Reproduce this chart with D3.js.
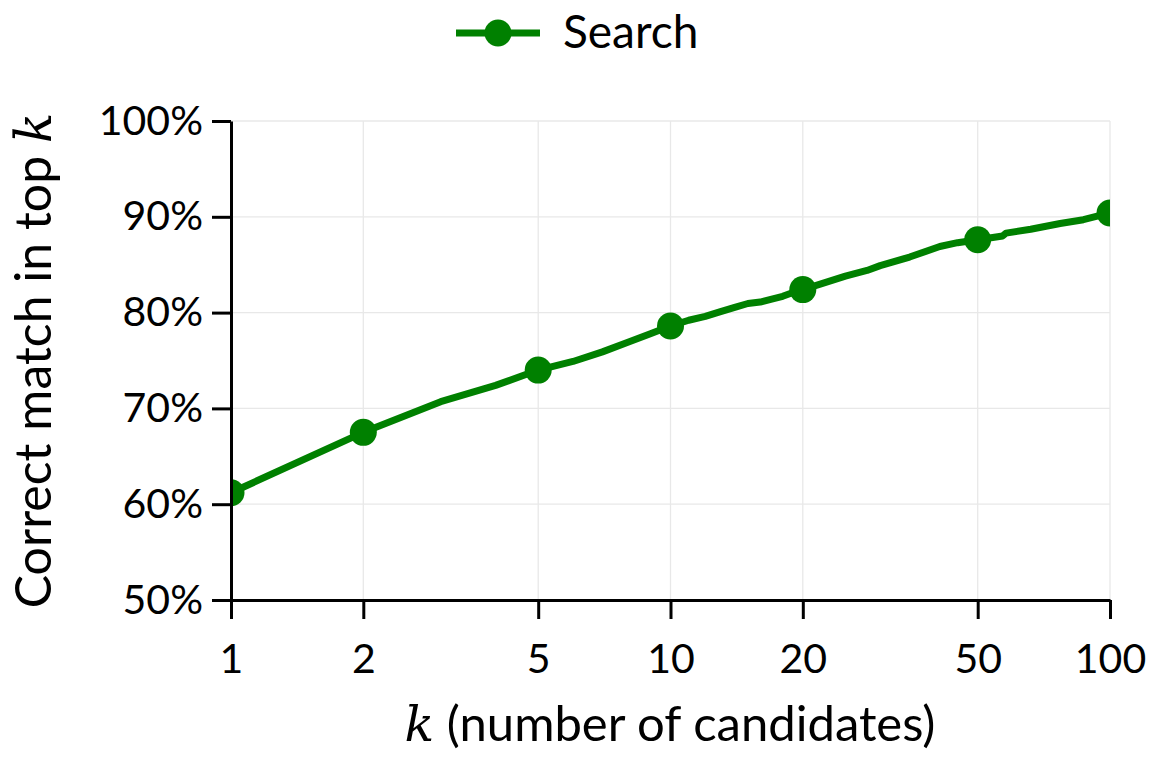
<!DOCTYPE html>
<html>
<head>
<meta charset="utf-8">
<script src="https://cdn.jsdelivr.net/npm/d3@7"></script>
<style>
  body { margin: 0; background: #fff; }
  text { font-family: Lato, "Open Sans", sans-serif; fill: #000; }
  .math { font-family: "DejaVu Serif", "Liberation Serif", serif; font-style: italic; }
</style>
</head>
<body>
<div id="chart"></div>
<script>
const kValues = [1, 2, 3, 4, 5, 6, 7, 8, 9, 10, 11, 12, 13, 14, 15, 16, 17, 18, 19, 20,
                 22, 25, 28, 30, 35, 41, 45, 50, 57, 58, 66, 77, 87, 100];
const searchValues = [0.612, 0.675, 0.707, 0.724, 0.740, 0.749, 0.759, 0.769, 0.778, 0.786,
                      0.792, 0.796, 0.801, 0.8055, 0.8095, 0.811, 0.814, 0.817, 0.821, 0.824,
                      0.830, 0.838, 0.844, 0.849, 0.858, 0.869, 0.873, 0.876, 0.880, 0.883,
                      0.887, 0.893, 0.897, 0.904];
const markerK = [1, 2, 5, 10, 20, 50, 100];
const xTicks = [1, 2, 5, 10, 20, 50, 100];
const yTicks = [0.5, 0.6, 0.7, 0.8, 0.9, 1.0];
const seriesName = "Search";

const width = 1161, height = 770;
const margin = {top: 121, right: 51, bottom: 170, left: 231};
const green = "#008000";

const data = kValues.map((k, i) => ({k: k, v: searchValues[i]}));

const svg = d3.select("#chart").append("svg")
  .attr("width", width)
  .attr("height", height);

//////////
// AXES //
//////////

const x = d3.scaleLog()
  .domain([1, 100])
  .range([margin.left, width - margin.right]);

const y = d3.scaleLinear()
  .domain([0.5, 1.0])
  .range([height - margin.bottom, margin.top]);

// grid
const grid = svg.append("g").attr("class", "grid");

grid.selectAll("line.gx")
  .data(xTicks)
  .enter().append("line")
  .attr("class", "gx")
  .attr("x1", d => x(d)).attr("x2", d => x(d))
  .attr("y1", y(0.5)).attr("y2", y(1.0))
  .attr("stroke", "#e8e8e8").attr("stroke-width", 1.3);

grid.selectAll("line.gy")
  .data(yTicks)
  .enter().append("line")
  .attr("class", "gy")
  .attr("x1", x(1)).attr("x2", x(100))
  .attr("y1", d => y(d)).attr("y2", d => y(d))
  .attr("stroke", "#e8e8e8").attr("stroke-width", 1.3);

const xAxis = d3.axisBottom(x)
  .tickValues(xTicks)
  .tickFormat(d3.format("d"))
  .tickSize(19)
  .tickSizeOuter(0)
  .tickPadding(25);

const yAxis = d3.axisLeft(y)
  .tickValues(yTicks)
  .tickFormat(d3.format(".0%"))
  .tickSize(19)
  .tickSizeOuter(0)
  .tickPadding(9);

const gx = svg.append("g")
  .attr("transform", "translate(0," + y(0.5) + ")")
  .call(xAxis);

const gy = svg.append("g")
  .attr("transform", "translate(" + x(1) + ",0)")
  .call(yAxis);

[gx, gy].forEach(g => {
  g.select(".domain").attr("stroke", "#000").attr("stroke-width", 3);
  g.selectAll(".tick line").attr("stroke", "#000").attr("stroke-width", 3);
  g.selectAll(".tick text")
    .attr("font-family", "Lato, sans-serif")
    .attr("font-size", 41)
    .attr("fill", "#000");
});

/////////////
// SERIES  //
/////////////

svg.append("defs").append("clipPath")
  .attr("id", "clip")
  .append("rect")
  .attr("x", x(1))
  .attr("y", y(1.0))
  .attr("width", x(100) - x(1))
  .attr("height", y(0.5) - y(1.0));

const plot = svg.append("g").attr("clip-path", "url(#clip)");

const line = d3.line()
  .x(d => x(d.k))
  .y(d => y(d.v));

plot.append("path")
  .datum(data)
  .attr("fill", "none")
  .attr("stroke", green)
  .attr("stroke-width", 7)
  .attr("stroke-linejoin", "round")
  .attr("d", line);

plot.selectAll(".dot")
  .data(data.filter(d => markerK.includes(d.k)))
  .enter().append("circle")
  .attr("class", "dot")
  .attr("r", 13.5)
  .attr("cx", d => x(d.k))
  .attr("cy", d => y(d.v))
  .attr("fill", green);

// redraw axis lines over the series
gx.raise();
gy.raise();

////////////
// LABELS //
////////////

const xLabel = svg.append("text")
  .attr("x", 670)
  .attr("y", 741)
  .attr("text-anchor", "middle")
  .attr("font-size", 49);
xLabel.append("tspan").attr("class", "math").text("k");
xLabel.append("tspan").text(" (number of candidates)");

const yLabel = svg.append("text")
  .attr("transform", "translate(51," + ((y(0.5) + y(1.0)) / 2) + ") rotate(-90)")
  .attr("text-anchor", "middle")
  .attr("font-size", 50);
yLabel.append("tspan").text("Correct match in top ");
yLabel.append("tspan").attr("class", "math").text("k");

////////////
// LEGEND //
////////////

const legend = svg.append("g");
legend.append("line")
  .attr("x1", 456).attr("x2", 540)
  .attr("y1", 33).attr("y2", 33)
  .attr("stroke", green).attr("stroke-width", 7);
legend.append("circle")
  .attr("cx", 498).attr("cy", 33).attr("r", 13.5)
  .attr("fill", green);
legend.append("text")
  .attr("x", 563).attr("y", 48)
  .attr("font-size", 46)
  .text(seriesName);
</script>
</body>
</html>
